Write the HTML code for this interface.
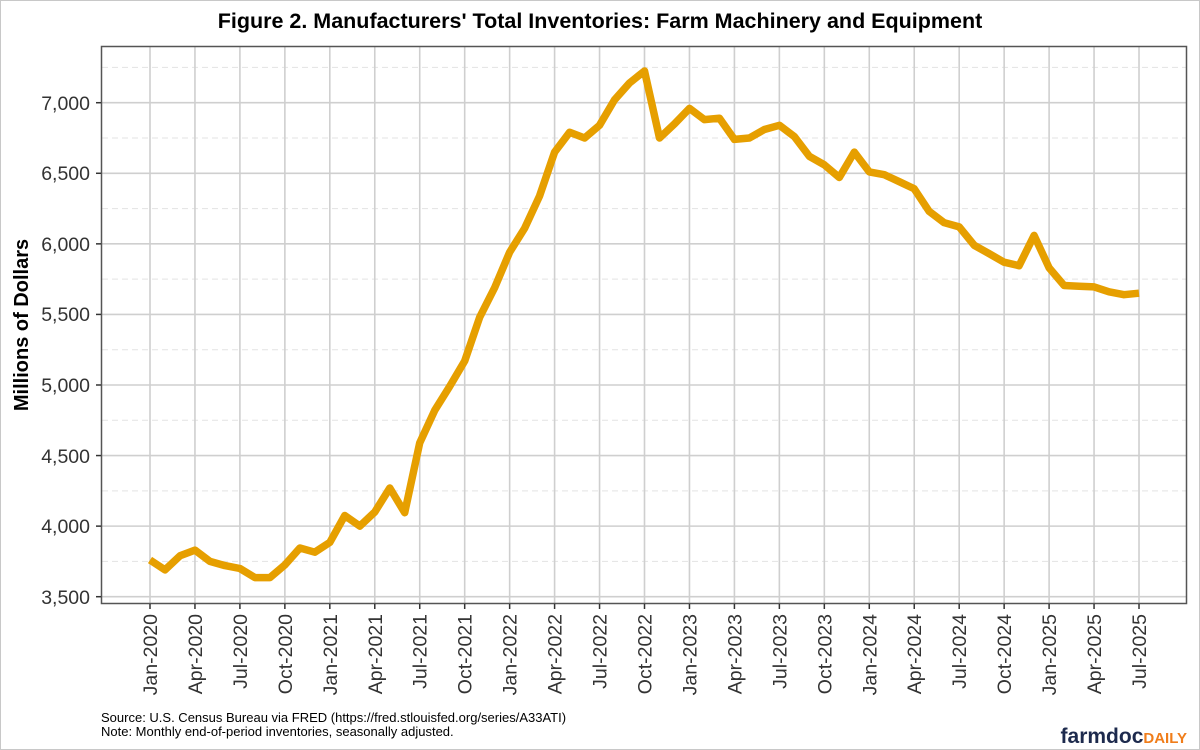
<!DOCTYPE html>
<html><head><meta charset="utf-8"><style>
html,body{margin:0;padding:0;background:#fff}
svg{display:block}
text{font-family:"Liberation Sans",Arial,sans-serif}
</style></head><body>
<svg id="s" width="1200" height="750" xmlns="http://www.w3.org/2000/svg">
<rect x="0.5" y="0.5" width="1199" height="749" fill="#fff" stroke="#c8c8c8"/>
<text x="600" y="28" text-anchor="middle" font-size="21.5" font-weight="bold" fill="#000">Figure 2. Manufacturers' Total Inventories: Farm Machinery and Equipment</text>
<g id="grid"></g>
<rect x="101.5" y="46.5" width="1085" height="557" fill="none" stroke="#555" stroke-width="1.5"/>
<g id="ticks"></g>
<path id="line" fill="none" stroke="#E69F00" stroke-width="7.5" stroke-linejoin="round" stroke-linecap="butt"/>
<g font-size="19.5" fill="#333" text-anchor="end">
<text x="90" y="110">7,000</text>
<text x="90" y="180">6,500</text>
<text x="90" y="251">6,000</text>
<text x="90" y="321">5,500</text>
<text x="90" y="392">5,000</text>
<text x="90" y="463">4,500</text>
<text x="90" y="533">4,000</text>
<text x="90" y="604">3,500</text>
</g>
<text transform="translate(28,325) rotate(-90)" text-anchor="middle" font-size="20" font-weight="bold" fill="#000">Millions of Dollars</text>
<g id="xl" font-size="19.5" fill="#333" text-anchor="end"></g>
<text x="101" y="722" font-size="13" fill="#000">Source: U.S. Census Bureau via FRED (https://fred.stlouisfed.org/series/A33ATI)</text>
<text x="101" y="736" font-size="13" fill="#000">Note: Monthly end-of-period inventories, seasonally adjusted.</text>
<text x="1187" y="743" text-anchor="end" font-weight="bold"><tspan font-size="21" fill="#1d2a4d">farmdoc</tspan><tspan font-size="15" fill="#f07d1a">DAILY</tspan></text>
</svg>
<script>
var ns="http://www.w3.org/2000/svg";
function Y(v){return 596.7-(v-3500)/500*70.57;}
function X(m){return 150+m*14.985;}
function el(p,t,a,txt){var e=document.createElementNS(ns,t);for(var k in a)e.setAttribute(k,a[k]);if(txt)e.textContent=txt;document.getElementById(p).appendChild(e);}
for(var v=3750;v<=7250;v+=500){var y=Y(v);el("grid","line",{x1:102,x2:1186,y1:y,y2:y,stroke:"#e3e3e3","stroke-width":1,"stroke-dasharray":"6,4"});}
for(var v=3500;v<=7000;v+=500){var y=Y(v);el("grid","line",{x1:102,x2:1186,y1:y,y2:y,stroke:"#cfcfcf","stroke-width":1.6});el("ticks","line",{x1:96,x2:101,y1:y,y2:y,stroke:"#333","stroke-width":1.5});}
var mn=["Jan","Apr","Jul","Oct"];
for(var m=0;m<=66;m+=3){var x=X(m);el("grid","line",{x1:x,x2:x,y1:47,y2:603,stroke:"#cfcfcf","stroke-width":1.6});el("ticks","line",{x1:x,x2:x,y1:604,y2:609,stroke:"#333","stroke-width":1.5});
var lab=mn[(m/3)%4]+"-"+(2020+Math.floor(m/12));
var t=document.createElementNS(ns,"text");t.setAttribute("transform","translate("+(x+7)+",614) rotate(-90)");t.textContent=lab;document.getElementById("xl").appendChild(t);}
var d=[3760,3690,3790,3830,3750,3720,3700,3635,3635,3725,3845,3815,3885,4075,4000,4100,4270,4095,4590,4820,4990,5170,5480,5690,5940,6110,6340,6650,6790,6750,6840,7020,7140,7225,6750,6850,6960,6880,6890,6740,6750,6810,6840,6760,6620,6560,6470,6650,6510,6490,6440,6390,6230,6150,6120,5990,5930,5870,5845,6060,5830,5705,5700,5695,5660,5640,5650];
var p="";for(var i=0;i<d.length;i++)p+=(i?"L":"M")+X(i).toFixed(1)+","+Y(d[i]).toFixed(1);
document.getElementById("line").setAttribute("d",p);
</script>
</body></html>
